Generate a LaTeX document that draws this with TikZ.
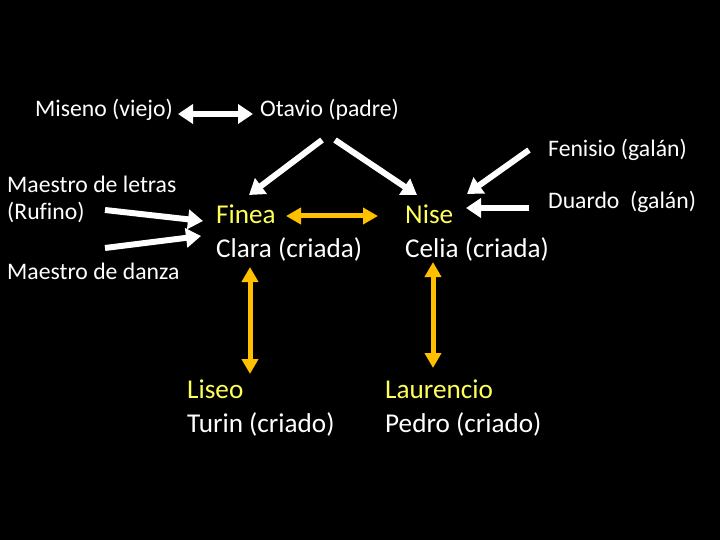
\documentclass[tikz,border=0pt]{standalone}
\usepackage{fontspec}
\setmainfont{Carlito}[Ligatures=NoCommon]
\usetikzlibrary{arrows.meta}
\definecolor{txtyellow}{RGB}{255,255,90}
\definecolor{arrorange}{RGB}{255,192,0}
\tikzset{
  small/.style={text=white, inner sep=0pt, anchor=base west, font=\fontsize{23.7}{27}\selectfont},
  big/.style={text=white, inner sep=0pt, anchor=base west, font=\fontsize{27.2}{34}\selectfont},
  bigy/.style={big, text=txtyellow},
  warrow/.style={draw=white, line width=6pt, -{Triangle[width=19pt,length=15pt]}},
  wdouble/.style={draw=white, line width=6pt, {Triangle[width=19pt,length=15pt]}-{Triangle[width=19pt,length=15pt]}},
  odouble/.style={draw=arrorange, line width=5pt, {Triangle[width=16pt,length=15pt]}-{Triangle[width=16pt,length=15pt]}},
}
\begin{document}
\begin{tikzpicture}[x=1pt,y=-1pt]
\fill[black] (0,0) rectangle (720,540);
\useasboundingbox (0,0) rectangle (720,540);

\node[small] (miseno) at (35,117) {Miseno (viejo)};
\node[small] (otavio) at (260,117) {Otavio (padre)};
\node[small] (fenisio) at (548,157) {Fenisio (galán)};
\node[small] (duardo) at (548,208) {Duardo\ \ (galán)};
\node[small] (maestro1) at (7,193) {Maestro de letras};
\node[small] (rufino) at (7,220) {(Rufino)};
\node[small] (maestro2) at (7,279) {Maestro de danza};

\node[bigy] (finea) at (216,224) {Finea};
\node[big] (clara) at (216,258) {Clara (criada)};
\node[bigy] (nise) at (405,224) {Nise};
\node[big] (celia) at (405,257) {Celia (criada)};
\node[bigy] (liseo) at (187,398) {Liseo};
\node[big] (turin) at (187,432) {Turin (criado)};
\node[bigy] (laurencio) at (385,398) {Laurencio};
\node[big] (pedro) at (385,432) {Pedro (criado)};

% arrow end points
\coordinate (mo1) at (178,114);
\coordinate (mo2) at (253,114);
\coordinate (ol1) at (322,140);
\coordinate (ol2) at (249,195);
\coordinate (or1) at (335,140);
\coordinate (or2) at (417,195);
\coordinate (fe1) at (529,150);
\coordinate (fe2) at (467,194);
\coordinate (du1) at (529,208);
\coordinate (du2) at (466,208);
\coordinate (ma1) at (105,210);
\coordinate (ma2) at (203,221);
\coordinate (md1) at (105,248);
\coordinate (md2) at (201,236);
\coordinate (fn1) at (286,216);
\coordinate (fn2) at (378,216);
\coordinate (fl1) at (250,267);
\coordinate (fl2) at (250,374);
\coordinate (nl1) at (433,262);
\coordinate (nl2) at (433,368);

\draw[wdouble] (mo1) -- (mo2);
\draw[warrow] (ol1) -- (ol2);
\draw[warrow] (or1) -- (or2);
\draw[warrow] (fe1) -- (fe2);
\draw[warrow] (du1) -- (du2);
\draw[warrow] (ma1) -- (ma2);
\draw[warrow] (md1) -- (md2);
\draw[odouble] (fn1) -- (fn2);
\draw[odouble] (fl1) -- (fl2);
\draw[odouble] (nl1) -- (nl2);
\end{tikzpicture}
\end{document}
